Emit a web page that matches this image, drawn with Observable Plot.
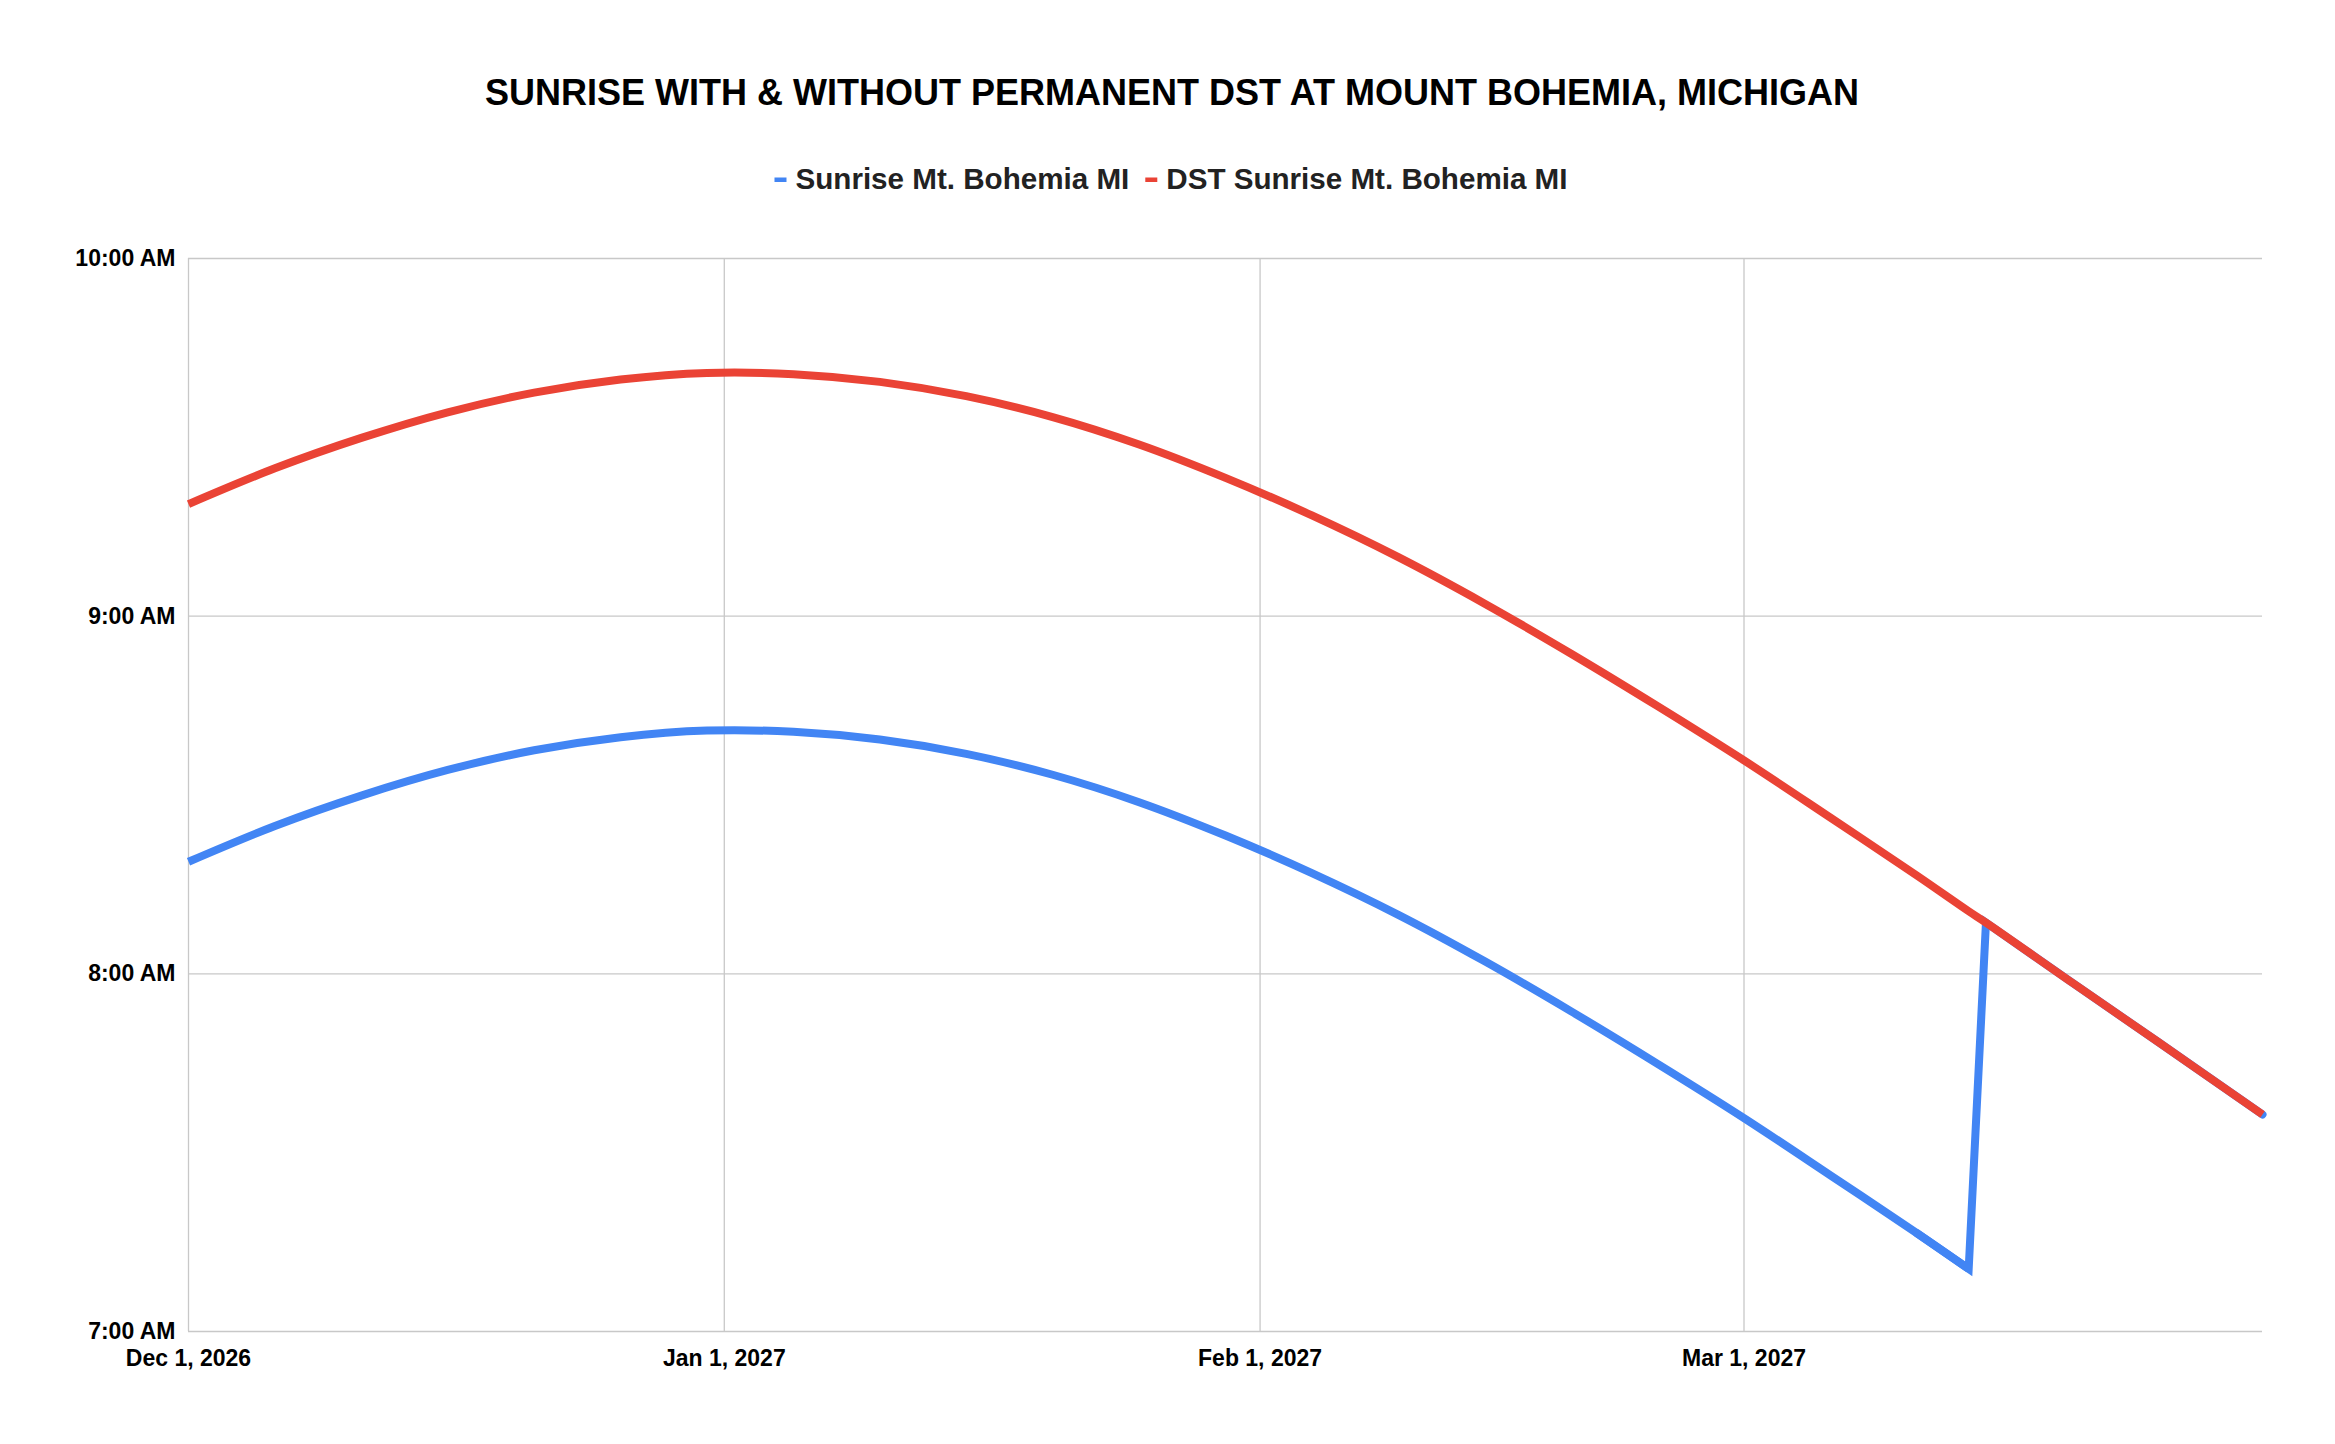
<!DOCTYPE html>
<html>
<head>
<meta charset="utf-8">
<script src="https://cdn.jsdelivr.net/npm/d3@7"></script>
<script src="https://cdn.jsdelivr.net/npm/@observablehq/plot@0.6"></script>
<style>
  html, body { margin: 0; padding: 0; background: #ffffff; width: 2335px; height: 1444px; overflow: hidden; }
  #page { position: relative; width: 2335px; height: 1444px; font-family: "Liberation Sans", Arial, sans-serif; }
  #hdr { position: absolute; left: 0; top: 0; }
  #chart { position: absolute; left: 0; top: 200px; }
</style>
</head>
<body>
<div id="page">
  <svg id="hdr" width="2335" height="200" xmlns="http://www.w3.org/2000/svg"></svg>
  <div id="chart"></div>
</div>
<script>
// ---- data ----
const chartTitle = "SUNRISE WITH & WITHOUT PERMANENT DST AT MOUNT BOHEMIA, MICHIGAN";
const seriesNames = ["Sunrise Mt. Bohemia MI", "DST Sunrise Mt. Bohemia MI"];
const seriesColors = ["#4285F4", "#EA4335"];

const dates = [
  "2026-12-01","2026-12-06","2026-12-11","2026-12-16","2026-12-21","2026-12-26","2026-12-31",
  "2027-01-05","2027-01-10","2027-01-15","2027-01-20","2027-01-25","2027-01-30",
  "2027-02-04","2027-02-09","2027-02-14","2027-02-19","2027-02-24",
  "2027-03-01","2027-03-06","2027-03-11","2027-03-14",
  "2027-03-15","2027-03-20","2027-03-25","2027-03-31"
];
// Sunrise Mt. Bohemia MI (clock time; switches to DST after Mar 14)
const sunrise = [
  "8:18:48","8:24:48","8:29:54","8:34:12","8:37:30","8:39:42","8:40:48",
  "8:40:36","8:39:18","8:36:54","8:33:24","8:28:48","8:23:12",
  "8:16:54","8:09:54","8:02:06","7:53:42","7:44:54",
  "7:35:48","7:26:12","7:16:30","7:10:30",
  "8:08:36","7:58:30","7:48:30","7:36:24"
];
// DST Sunrise Mt. Bohemia MI (permanent DST)
const sunriseDst = [
  "9:18:48","9:24:48","9:29:54","9:34:12","9:37:30","9:39:42","9:40:48",
  "9:40:36","9:39:18","9:36:54","9:33:24","9:28:48","9:23:12",
  "9:16:54","9:09:54","9:02:06","8:53:42","8:44:54",
  "8:35:48","8:26:12","8:16:30","8:10:30",
  "8:08:36","7:58:30","7:48:30","7:36:24"
];
const xTickLabels = ["2026-12-01","2027-01-01","2027-02-01","2027-03-01"];
const yTickLabels = ["7:00","8:00","9:00","10:00"];
const xDomain = ["2026-12-01","2027-03-31"];
const yDomain = ["7:00","10:00"];
const dstSwitchDate = "2027-03-14"; // last standard-time point before the jump

// ---- helpers ----
const parseDate = s => new Date(s + "T00:00:00Z");
const parseTime = s => {
  const [h, m, sec] = s.split(":").map(Number);
  return new Date(Date.UTC(1970, 0, 1, h, m, sec || 0));
};

const rows = dates.map((d, i) => ({
  date: parseDate(d),
  blue: parseTime(sunrise[i]),
  red: parseTime(sunriseDst[i])
}));
const switchIdx = dates.indexOf(dstSwitchDate);
const blueSmooth = rows.slice(0, switchIdx + 1);
const blueJump = rows.slice(switchIdx - 1);

const xTicks = xTickLabels.map(parseDate);
const yTicks = yTickLabels.map(parseTime);
const FONT = "'Liberation Sans', Arial, Helvetica, sans-serif";

const chart = Plot.plot({
  width: 2335,
  height: 1244,
  marginLeft: 188,
  marginRight: 73,
  marginTop: 58,
  marginBottom: 113,
  style: { fontFamily: FONT, fontSize: "23px", fontWeight: "bold", color: "#000000", background: "#ffffff", overflow: "visible" },
  x: { type: "utc", domain: xDomain.map(parseDate) },
  y: { type: "utc", domain: yDomain.map(parseTime) },
  marks: [
    Plot.gridX(xTicks, { stroke: "#c8c8c8", strokeOpacity: 1, strokeWidth: 1.3 }),
    Plot.gridY(yTicks, { stroke: "#c8c8c8", strokeOpacity: 1, strokeWidth: 1.3 }),
    Plot.axisX(xTicks, { tickSize: 0, tickPadding: 18, tickFormat: d3.utcFormat("%b %-d, %Y"), label: null, fill: "#000000" }),
    Plot.axisY(yTicks, { tickSize: 0, tickPadding: 13, tickFormat: d3.utcFormat("%-I:%M %p"), label: null, fill: "#000000" }),
    Plot.line(blueSmooth, { x: "date", y: "blue", stroke: seriesColors[0], strokeWidth: 8, curve: "catmull-rom", strokeLinecap: "butt" }),
    Plot.line(blueJump, { x: "date", y: "blue", stroke: seriesColors[0], strokeWidth: 8, curve: "linear", strokeLinejoin: "miter", strokeMiterlimit: 10 }),
    Plot.line(rows, { x: "date", y: "red", stroke: seriesColors[1], strokeWidth: 8, curve: "catmull-rom", strokeLinecap: "butt" })
  ]
});
document.getElementById("chart").appendChild(chart);

// ---- title and legend (above the SVG) ----
const hdr = d3.select("#hdr");
hdr.append("text")
  .attr("x", 1172).attr("y", 105)
  .attr("text-anchor", "middle")
  .attr("font-family", FONT).attr("font-size", 36).attr("font-weight", "bold")
  .attr("fill", "#000000")
  .text(chartTitle);

const leg = hdr.append("g");
let cx = 0;
seriesNames.forEach((name, i) => {
  if (i > 0) cx += 16;
  leg.append("rect").attr("x", cx).attr("y", 177.5).attr("width", 12).attr("height", 4.5).attr("fill", seriesColors[i]);
  cx += 12 + 9;
  const t = leg.append("text")
    .attr("x", cx).attr("y", 189)
    .attr("font-family", FONT).attr("font-size", 29.6).attr("font-weight", "bold")
    .attr("fill", "#222222")
    .text(name);
  cx += t.node().getComputedTextLength();
});
const legendCenter = 1171;
leg.attr("transform", `translate(${legendCenter - cx / 2},0)`);
</script>
</body>
</html>
